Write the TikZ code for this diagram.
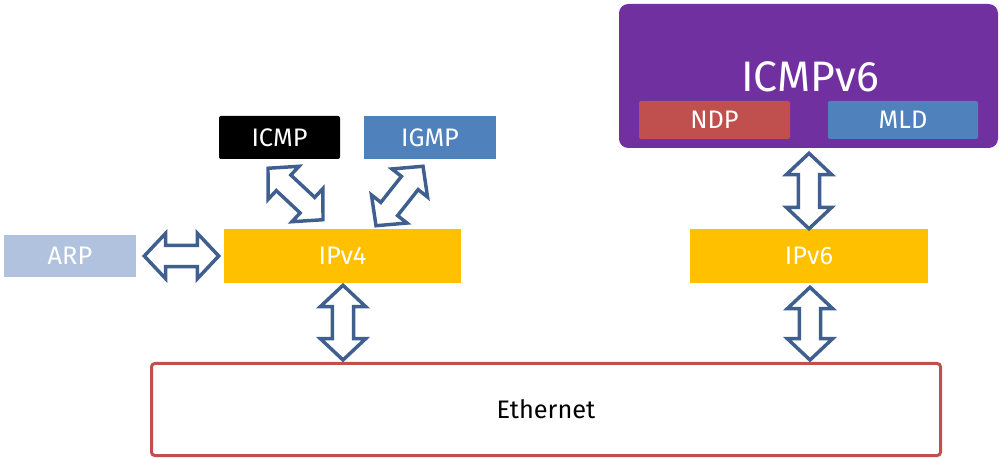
\documentclass[tikz,border=0pt]{standalone}
\usepackage{fontspec}
\setmainfont{Fira Sans}
\usetikzlibrary{calc}
\definecolor{purp}{HTML}{7030A0}
\definecolor{redc}{HTML}{C0504D}
\definecolor{bluec}{HTML}{4F81BD}
\definecolor{arpc}{HTML}{B0C2DE}
\definecolor{yel}{HTML}{FFC000}
\definecolor{arrc}{HTML}{3F5F8F}
\newdimen\px \px=0.75pt
\def\hl{16pt}
\def\hw{17pt}
\def\sw{8pt}
\newcommand\dblarrow[2]{%
 \coordinate (q1) at ($(#1)!\hl!(#2)$);
 \coordinate (q2) at ($(#2)!\hl!(#1)$);
 \draw[arr] (#1) -- ($(q1)!\hw!90:(#2)$) -- ($(q1)!\sw!90:(#2)$) -- ($(q2)!\sw!-90:(#1)$) -- ($(q2)!\hw!-90:(#1)$) -- (#2) -- ($(q2)!\hw!90:(#1)$) -- ($(q2)!\sw!90:(#1)$) -- ($(q1)!\sw!-90:(#2)$) -- ($(q1)!\hw!-90:(#2)$) -- cycle;
}
\tikzset{
 box/.style={rectangle, inner sep=0pt, text=white, font=\fontsize{19}{21}\selectfont},
 arr/.style={draw=arrc, line width=2.6pt, fill=white, line join=miter},
}
\begin{document}
\begin{tikzpicture}[x=0.75pt, y=-0.75pt]
\useasboundingbox (0,0) rectangle (1003,459);
% ICMPv6 group
\node[rectangle, fill=purp, rounded corners=7pt, minimum width=379\px, minimum height=144\px] (icmpv6) at (808.5,76) {};
\node[text=white, font=\fontsize{32}{34}\selectfont, inner sep=0pt] (icmpv6t) at (810,77) {ICMPv6};
\node[box, fill=redc, rounded corners=1.5pt, minimum width=151\px, minimum height=38\px] (ndp) at (714.5,120) {NDP};
\node[box, fill=bluec, rounded corners=1.5pt, minimum width=150\px, minimum height=38\px] (mld) at (903,120) {MLD};
% IPv4 side
\node[box, fill=black, rounded corners=1.5pt, minimum width=121\px, minimum height=43\px] (icmp) at (279.5,137.5) {ICMP};
\node[box, fill=bluec, minimum width=132\px, minimum height=43\px] (igmp) at (430,137.5) {IGMP};
\node[box, fill=arpc, minimum width=132\px, minimum height=42\px] (arp) at (70,256) {ARP};
\node[box, fill=yel, minimum width=237\px, minimum height=54\px] (ipv4) at (342.5,256) {IPv4};
\node[box, fill=yel, minimum width=238\px, minimum height=54\px] (ipv6) at (809,256) {IPv6};
% Ethernet
\node[rectangle, draw=redc, line width=2.25pt, rounded corners=2.5pt, minimum width=789\px, minimum height=92\px, inner sep=0pt, font=\fontsize{19}{21}\selectfont] (eth) at (546,409.5) {Ethernet};
% arrow end points
\coordinate (a1) at ($(arp.east)+(8,0)$);
\coordinate (a2) at ($(ipv4.west)+(-5,0)$);
\coordinate (b1) at ($(ipv4.south)+(0.5,2)$);
\coordinate (b2) at ($(ipv4.south |- eth.north)+(0.5,-2)$);
\coordinate (c1) at ($(icmpv6.south)+(0.5,5)$);
\coordinate (c2) at ($(ipv6.north)+(0,0)$);
\coordinate (d1) at ($(ipv6.south)+(1,4)$);
\coordinate (d2) at ($(ipv6.south |- eth.north)+(1,-2)$);
\coordinate (e1) at ($(icmp.south)+(-11.5,9)$);
\coordinate (e2) at ($(ipv4.north)+(-19.5,-9)$);
\coordinate (f1) at ($(igmp.south)+(-7,7)$);
\coordinate (f2) at ($(ipv4.north)+(33.5,-3)$);
\dblarrow{a1}{a2}
\dblarrow{b1}{b2}
\dblarrow{c1}{c2}
\dblarrow{d1}{d2}
\dblarrow{e1}{e2}
\dblarrow{f1}{f2}
\end{tikzpicture}
\end{document}
